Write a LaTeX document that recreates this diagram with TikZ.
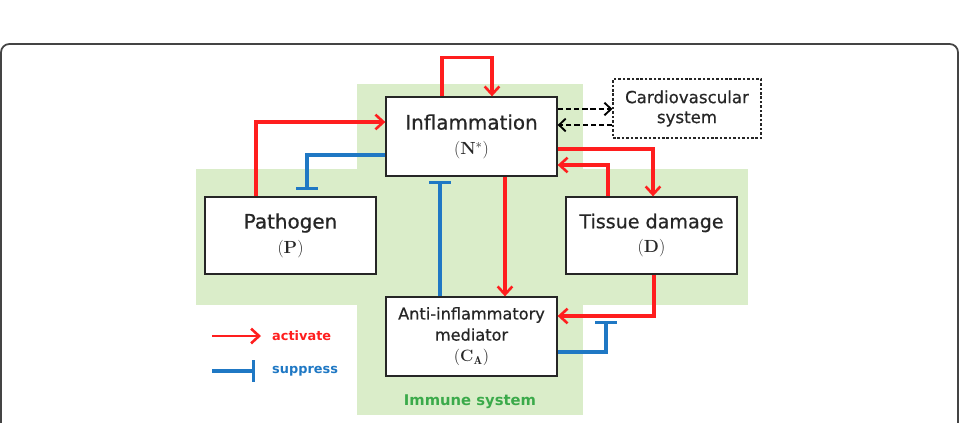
\documentclass[tikz,border=0pt]{standalone}
\usepackage{fontspec}
\setsansfont{DejaVu Sans}[FakeBold=0.6]
\newfontfamily\legfont{DejaVu Sans Bold}
\usetikzlibrary{arrows.meta}
\definecolor{actred}{HTML}{FF1E1E}
\definecolor{supblue}{HTML}{1F78C4}
\definecolor{immbg}{HTML}{DAEDC9}
\definecolor{immtext}{HTML}{3BAA4A}
\definecolor{frame}{HTML}{444444}
\begin{document}
\begin{tikzpicture}[x=0.03cm,y=-0.03cm,
  box/.style={draw=black!85, line width=1.1pt, fill=white, align=center, inner sep=0pt, text=black!85},
  act/.style={draw=actred, line width=2.6pt, -{Straight Barb[length=0.24cm,width=0.44cm,line width=2.2pt]}},
  sup/.style={draw=supblue, line width=2.6pt, -{Bar[width=0.64cm,line width=2.6pt]}},
  dsh/.style={draw=black, line width=1.7pt, dash pattern=on 4.5pt off 2.5pt, -{Straight Barb[length=0.2cm,width=0.38cm,line width=1.6pt]}},
  lab/.style={anchor=west, inner sep=0pt}]
\useasboundingbox (0,0) rectangle (965,422);
% outer frame
\draw[frame, line width=1.5pt, rounded corners=0.25cm] (1,44) rectangle (958,460);
% immune system background
\fill[immbg] (357,84) rectangle (583,415);
\fill[immbg] (196,169) rectangle (748,305);
% nodes
\node[box, minimum width=5.13cm, minimum height=2.37cm, font=\sffamily\fontsize{17}{21}\selectfont] (N) at (471.5,136.5)
  {Inflammation\\{\rmfamily\fontsize{15}{21}\selectfont(\textbf{N}$^{*}$)}};
\node[box, minimum width=5.13cm, minimum height=2.31cm, font=\sffamily\fontsize{17}{21}\selectfont] (P) at (290.5,235.5)
  {Pathogen\\{\rmfamily\fontsize{15}{21}\selectfont(\textbf{P})}};
\node[box, minimum width=5.13cm, minimum height=2.31cm, font=\sffamily\fontsize{16.3}{21}\selectfont] (D) at (651.5,235.5)
  {Tissue damage\\{\rmfamily\fontsize{15}{21}\selectfont(\textbf{D})}};
\node[box, minimum width=5.13cm, minimum height=2.37cm, font=\sffamily\fontsize{13.8}{18}\selectfont] (C) at (471.5,336.5)
  {Anti-inflammatory\\mediator\\{\rmfamily\fontsize{14}{18}\selectfont(\textbf{C}$_{\mathbf{A}}$)}};
\node[box, line width=1pt, dash pattern=on 2.2pt off 1.6pt, minimum width=4.44cm, minimum height=1.77cm, font=\sffamily\fontsize{14.2}{17}\selectfont] (V) at (687,108.5)
  {Cardiovascular\\system};
% connectors
\draw[act] (N.north -| 442,0) -- ++(0,-39) -| (N.north -| 492,0);
\draw[act] (P.north -| 256,0) |- (N.west |- 0,122);
\coordinate (pbar) at (307,190);
\draw[sup] (N.west |- 0,155) -| (pbar);
\coordinate (nbar) at (440,181);
\draw[sup] (C.north -| nbar) -- (nbar);
\draw[act] (N.south -| 505,0) -- (C.north -| 505,0);
\draw[act] (N.east |- 0,149) -| (D.north -| 653,0);
\draw[act] (D.north -| 608,0) |- (N.east |- 0,165);
\draw[dsh] (N.east |- 0,109) -- (V.west |- 0,109);
\draw[dsh] (V.west |- 0,125) -- (N.east |- 0,125);
\draw[act] (D.south -| 654,0) |- (C.east |- 0,316);
\coordinate (dbar) at (606,321);
\draw[sup] (C.east |- 0,352) -| (dbar);
% legend
\coordinate (la0) at (212,336);
\coordinate (la1) at (261,336);
\coordinate (ls0) at (212,371);
\coordinate (ls1) at (255,371);
\draw[act, line width=2.2pt] (la0) -- (la1);
\draw[sup] (ls0) -- (ls1);
\node[lab, text=actred, font=\legfont\fontsize{11}{13}\selectfont] (lact) at (272,336) {activate};
\node[lab, text=supblue, font=\legfont\fontsize{11}{13}\selectfont] (lsup) at (272,371) {suppress};
\node[text=immtext, inner sep=0pt, font=\legfont\fontsize{12.6}{15}\selectfont] (imm) at (470,402) {Immune system};
\end{tikzpicture}
\end{document}
